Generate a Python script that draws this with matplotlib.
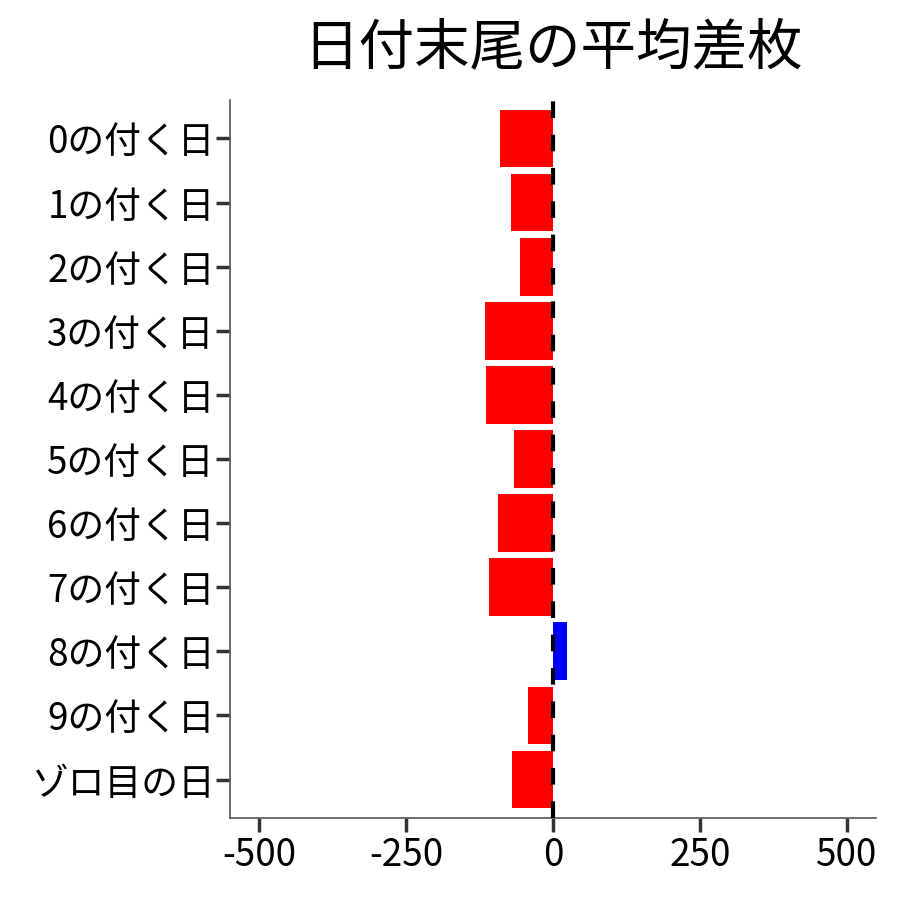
import matplotlib
matplotlib.use("Agg")
import matplotlib.pyplot as plt

plt.rcParams['font.family'] = ['Noto Sans CJK JP', 'DejaVu Sans']

# category labels (top to bottom) and mean difference values
labels = ["0の付く日", "1の付く日", "2の付く日", "3の付く日", "4の付く日",
          "5の付く日", "6の付く日", "7の付く日", "8の付く日", "9の付く日",
          "ゾロ目の日"]
values = [-90, -71, -56, -116, -114, -66, -94, -109, 23, -43, -70]
xticks = [-500, -250, 0, 250, 500]

colors = ["blue" if v > 0 else "red" for v in values]
ypos = list(range(len(labels), 0, -1))

fig = plt.figure(figsize=(9, 9), dpi=100)
ax = fig.add_axes([0.2556, 0.0911, 0.7177, 0.7978])

ax.barh(ypos, values, height=0.9, color=colors, zorder=2)
ax.axvline(0, color="black", linestyle=(0, (4, 4)), linewidth=3, zorder=3)

ax.set_xlim(-550, 550)
ax.set_ylim(0.4, len(labels) + 0.6)
ax.set_xticks(xticks)
ax.set_xticklabels([str(t) for t in xticks])
ax.set_yticks(ypos)
ax.set_yticklabels(labels)

for side in ["top", "right"]:
    ax.spines[side].set_visible(False)
for side in ["left", "bottom"]:
    ax.spines[side].set_color("#555555")
    ax.spines[side].set_linewidth(1.2)

ax.tick_params(axis="both", length=10, width=2.5, color="#333333",
               labelsize=26.5, labelcolor="black")
ax.tick_params(axis="y", pad=1)
ax.tick_params(axis="x", pad=3)

fig.suptitle("日付末尾の平均差枚", fontsize=40, x=0.614, y=0.978, va="top")

fig.savefig("out.png", dpi=100)
